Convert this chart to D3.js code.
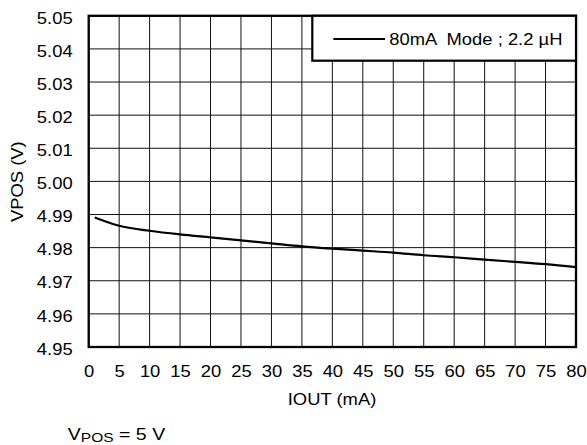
<!DOCTYPE html>
<html><head><meta charset="utf-8">
<script src="https://cdn.jsdelivr.net/npm/d3@7"></script>
<style>body{margin:0;background:#fff}text{font-family:"Liberation Sans",Arial,sans-serif;white-space:pre}</style>
</head><body><svg id="c" width="587" height="445"></svg>
<script>
const iout = [1,5,10,15,20,25,30,35,40,45,50,55,60,65,70,75,80];
const vpos = [4.9891,4.9866,4.9851,4.9840,4.9831,4.9822,4.9813,4.9804,4.9797,4.9791,4.9785,4.9777,4.9771,4.9764,4.9757,4.9750,4.9741];
const xTicks = d3.range(0,81,5);
const yTicks = [4.95,4.96,4.97,4.98,4.99,5.00,5.01,5.02,5.03,5.04,5.05];
const seriesName = "80mA  Mode ; 2.2 µH";

const SX = 1.15, FS = 16;
const svg = d3.select("#c");
const L=88.7,R=576,T=15.8,B=347;
const x = d3.scaleLinear().domain([0,80]).range([L,R]);
const y = d3.scaleLinear().domain([4.95,5.05]).range([B,T]);

const g = svg.append("g");
g.selectAll(".vx").data(xTicks).join("line")
 .attr("x1",d=>x(d)).attr("x2",d=>x(d)).attr("y1",T).attr("y2",B)
 .attr("stroke","#111").attr("stroke-width",1);
g.selectAll(".hy").data(yTicks).join("line")
 .attr("y1",d=>y(d)).attr("y2",d=>y(d)).attr("x1",L).attr("x2",R)
 .attr("stroke","#111").attr("stroke-width",1);

const xa = d3.axisBottom(x).tickValues(xTicks).tickSize(0).tickPadding(18.6).tickFormat(d3.format("d"));
const ya = d3.axisLeft(y).tickValues(yTicks).tickSize(0).tickPadding(14).tickFormat(d3.format(".2f"));
const gx = svg.append("g").attr("transform",`translate(0,${B})`).call(xa);
const gy = svg.append("g").attr("transform",`translate(${L},0)`).call(ya);
[gx,gy].forEach(a=>{a.select(".domain").remove();a.selectAll("text").attr("font-size",FS).attr("fill","#000")
  .style("font-family","Liberation Sans, Arial, sans-serif");});
gx.selectAll("text").attr("transform",`scale(${SX},1)`);
gy.selectAll("text").attr("dy","0.45em").attr("transform",`scale(${SX},1)`);

svg.append("rect").attr("x",L).attr("y",T).attr("width",R-L).attr("height",B-T)
 .attr("fill","none").attr("stroke","#000").attr("stroke-width",2.3);

const line = d3.line().x(d=>x(d[0])).y(d=>y(d[1])).curve(d3.curveMonotoneX);
svg.append("path").datum(iout.map((v,i)=>[v,vpos[i]])).attr("d",line)
 .attr("fill","none").attr("stroke","#000").attr("stroke-width",2.2);

// legend
svg.append("rect").attr("x",312.3).attr("y",T).attr("width",R-312.3).attr("height",60.7-T)
 .attr("fill","#fff").attr("stroke","#000").attr("stroke-width",2.2);
svg.append("line").attr("x1",333.3).attr("x2",385).attr("y1",39).attr("y2",39).attr("stroke","#000").attr("stroke-width",2);
svg.append("text").attr("transform",`translate(389.3,45) scale(${SX},1)`).attr("font-size",FS).text(seriesName);

svg.append("text").attr("transform",`translate(23.3,181.7) rotate(-90) scale(${SX},1)`).attr("text-anchor","middle").attr("font-size",FS).text("VPOS (V)");
svg.append("text").attr("transform",`translate(332,405) scale(${SX},1)`).attr("text-anchor","middle").attr("font-size",FS).text("IOUT (mA)");
const t = svg.append("text").attr("transform",`translate(67.8,439.5) scale(${SX},1)`).attr("font-size",17);
t.append("tspan").text("V");
t.append("tspan").attr("font-size",13.5).attr("dy",2.5).text("POS");
t.append("tspan").attr("dy",-2.5).text(" = 5 V");
</script></body></html>
